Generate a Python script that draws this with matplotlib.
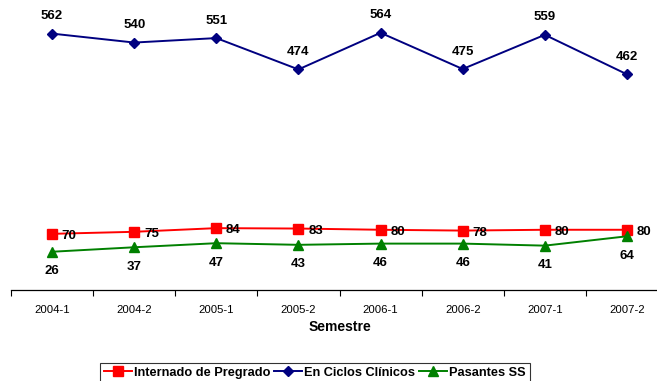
import matplotlib
matplotlib.use("Agg")
import matplotlib.pyplot as plt

plt.rcParams['font.family'] = ['Liberation Sans', 'DejaVu Sans']

semestres = ["2004-1", "2004-2", "2005-1", "2005-2", "2006-1", "2006-2", "2007-1", "2007-2"]
internado = [70, 75, 84, 83, 80, 78, 80, 80]
ciclos = [562, 540, 551, 474, 564, 475, 559, 462]
pasantes = [26, 37, 47, 43, 46, 46, 41, 64]

W, H = 657, 381
fig = plt.figure(figsize=(W / 100, H / 100), dpi=100)
ax = fig.add_axes([11 / W, 1 - 290 / H, 657 / W, 280 / H])

x = list(range(len(semestres)))
ax.plot(x, internado, color="#FF0000", lw=1.4, marker="s", ms=6.5, label="Internado de Pregrado")
ax.plot(x, ciclos, color="#000080", lw=1.4, marker="D", ms=5.5, label="En Ciclos Clínicos")
ax.plot(x, pasantes, color="#008000", lw=1.4, marker="^", ms=7.5, label="Pasantes SS")

lab = dict(fontsize=9.5, fontweight="bold", color="black", textcoords="offset points")
for xi, v in zip(x, ciclos):
    ax.annotate(str(v), (xi, v), xytext=(0, 12.5), ha="center", va="center", **lab)
for xi, v in zip(x, internado):
    ax.annotate(str(v), (xi, v), xytext=(7, -1.5), ha="left", va="center", **lab)
for xi, v in zip(x, pasantes):
    ax.annotate(str(v), (xi, v), xytext=(0, -14), ha="center", va="center", **lab)

ax.set_xlim(-0.5, 7.5)
ax.set_ylim(-68, 620)
ax.set_xticks(x)
ax.set_xticklabels(semestres, fontsize=8.2)
ax.set_xticks([i + 0.5 for i in range(-1, 8)], minor=True)
ax.tick_params(axis="x", which="major", length=0, pad=11)
ax.tick_params(axis="x", which="minor", length=4, width=0.8, direction="out")
ax.set_yticks([])
for s in ["top", "right", "left"]:
    ax.spines[s].set_visible(False)
ax.spines["bottom"].set_linewidth(0.9)
ax.set_xlabel("Semestre", fontsize=10, fontweight="bold", labelpad=3.5)

leg = fig.legend(loc="upper left", bbox_to_anchor=(100 / W, 1 - 363 / H), ncol=3,
                 frameon=True, fancybox=False, edgecolor="black",
                 prop={"weight": "bold", "size": 9.2}, handlelength=2.2, handletextpad=0.15,
                 columnspacing=0.3, borderpad=0.3, borderaxespad=0)
leg.get_frame().set_linewidth(0.8)

fig.savefig("out.png", dpi=100)
